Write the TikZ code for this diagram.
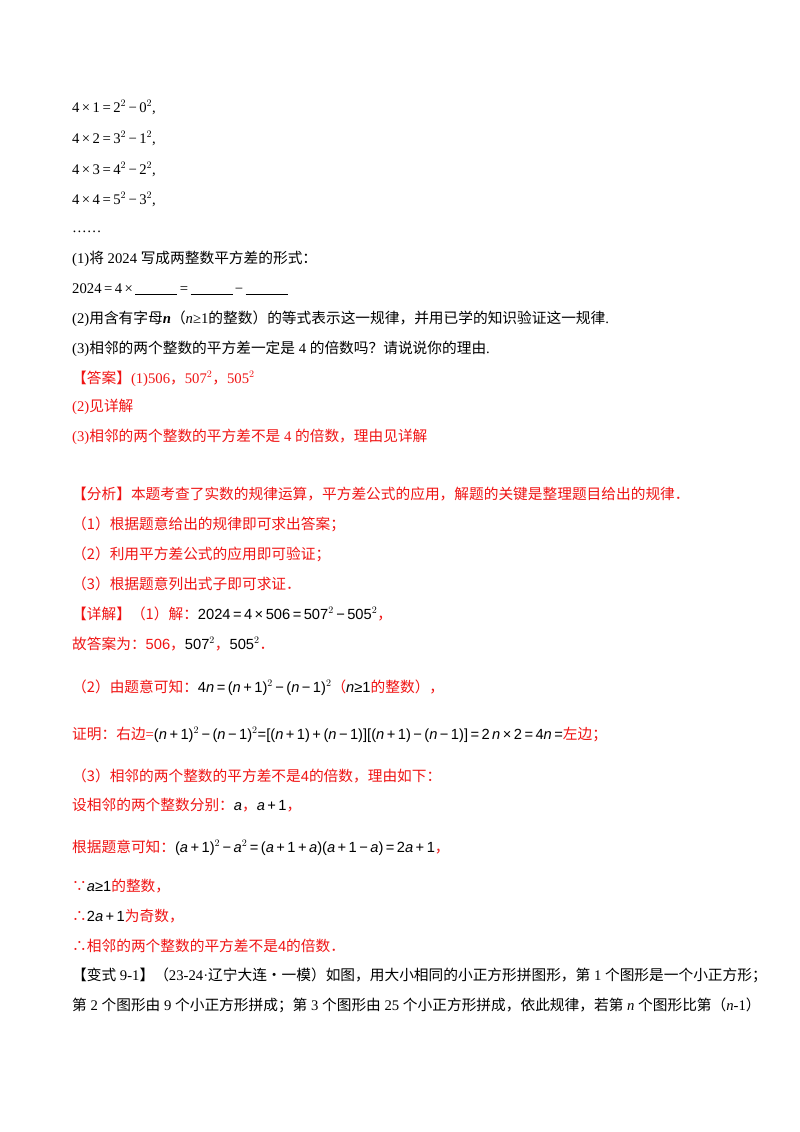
\documentclass[tikz,border=0pt]{standalone}
\usepackage{fontspec}
\setmainfont{Liberation Serif}
\newfontfamily\zh{Noto Sans CJK SC}
\newfontfamily\mf{Liberation Sans}
\definecolor{rd}{RGB}{240,20,20}
\newcommand{\ZH}[1]{{\zh #1}}
\newcommand{\SC}[1]{{\zh #1}}
\newcommand{\KK}[1]{{\color{black}\mf #1}}
\newcommand{\II}[1]{{\color{black}\mf\itshape #1}}
\begin{document}
\begin{tikzpicture}[x=1pt,y=-1pt,
  ln/.style={anchor=base west,inner sep=0,font=\fontsize{14.7}{17}\selectfont},
  rl/.style={ln,text=rd}]
\useasboundingbox[fill=white] (0,0) rectangle (800,1132);
\node[ln] (l1) at (72,112) {4\,×\,1\,=\,2$^{2}$\,−\,0$^{2}$,};
\node[ln] (l2) at (72,143) {4\,×\,2\,=\,3$^{2}$\,−\,1$^{2}$,};
\node[ln] (l3) at (72,174) {4\,×\,3\,=\,4$^{2}$\,−\,2$^{2}$,};
\node[ln] (l4) at (72,204) {4\,×\,4\,=\,5$^{2}$\,−\,3$^{2}$,};
\node[ln] (l5) at (72,232) {……};
\node[ln] (l6) at (72,263) {(1)\SC{将} 2024 \SC{写成两整数平方差的形式：}};
\node[ln] (l7) at (72,293) {2024\,=\,4\,×\,\underline{\hspace{42pt}}\,=\,\underline{\hspace{42pt}}\,−\,\underline{\hspace{42pt}}};
\node[ln] (l8) at (72,323) {(2)\SC{用含有字母}\textit{\textbf{n}}\SC{（}\textit{n}≥1\SC{的整数）的等式表示这一规律，并用已学的知识验证这一规律}.};
\node[ln] (l9) at (72,353) {(3)\SC{相邻的两个整数的平方差一定是} 4 \SC{的倍数吗？请说说你的理由}.};
\node[rl] (a1) at (72,383) {\ZH{【答案】}(1)506\ZH{，}507$^{2}$\ZH{，}505$^{2}$};
\node[rl] (a2) at (72,411) {(2)\SC{见详解}};
\node[rl] (a3) at (72,441) {(3)\SC{相邻的两个整数的平方差不是} 4 \SC{的倍数，理由见详解}};
\node[rl] (b1) at (72,499) {\ZH{【分析】本题考查了实数的规律运算，平方差公式的应用，解题的关键是整理题目给出的规律．}};
\node[rl] (b2) at (72,529) {\ZH{（1）根据题意给出的规律即可求出答案；}};
\node[rl] (b3) at (72,559) {\ZH{（2）利用平方差公式的应用即可验证；}};
\node[rl] (b4) at (72,589) {\ZH{（3）根据题意列出式子即可求证．}};
\node[rl] (b5) at (72,619) {\ZH{【详解】（1）解：}\KK{2024\,=\,4\,×\,506\,=\,507$^{2}$\,−\,505$^{2}$}\ZH{，}};
\node[rl] (b6) at (72,649) {\ZH{故答案为：}{\mf 506}\ZH{，}\KK{507$^{2}$}\ZH{，}\KK{505$^{2}$}\ZH{．}};
\node[rl] (b7) at (72,692) {\ZH{（2）由题意可知：}\KK{4\II{n}\,=\,(\II{n}\,+\,1)$^{2}$\,−\,(\II{n}\,−\,1)$^{2}$}\ZH{（}\II{n}\KK{≥1}\ZH{的整数），}};
\node[rl] (b8) at (72,739) {\ZH{证明：右边}=\KK{(\II{n}\,+\,1)$^{2}$\,−\,(\II{n}\,−\,1)$^{2}$=[(\II{n}\,+\,1)\,+\,(\II{n}\,−\,1)][(\II{n}\,+\,1)\,−\,(\II{n}\,−\,1)]\,=\,2\,\II{n}\,×\,2\,=\,4\II{n}\,=}\ZH{左边；}};
\node[rl] (b9) at (72,781) {\ZH{（3）相邻的两个整数的平方差不是}{\mf 4}\ZH{的倍数，理由如下：}};
\node[rl] (b10) at (72,810) {\ZH{设相邻的两个整数分别：}\II{a}\ZH{，}\KK{\II{a}\,+\,1}\ZH{，}};
\node[rl] (b11) at (72,852) {\ZH{根据题意可知：}\KK{(\II{a}\,+\,1)$^{2}$\,−\,\II{a}$^{2}$\,=\,(\II{a}\,+\,1\,+\,\II{a})(\II{a}\,+\,1\,−\,\II{a})\,=\,2\II{a}\,+\,1}\ZH{，}};
\node[rl] (b12) at (72,891) {\ZH{∵}\KK{\II{a}≥1}\ZH{的整数，}};
\node[rl] (b13) at (72,921) {\ZH{∴}\KK{2\II{a}\,+\,1}\ZH{为奇数，}};
\node[rl] (b14) at (72,951) {\ZH{∴相邻的两个整数的平方差不是}{\mf 4}\ZH{的倍数．}};
\node[ln] (c1) at (72,980) {\SC{【变式} 9-1\SC{】（}23-24·\SC{辽宁大连·一模）如图，用大小相同的小正方形拼图形，第} 1 \SC{个图形是一个小正方形；}};
\node[ln] (c2) at (72,1010) {\SC{第} 2 \SC{个图形由} 9 \SC{个小正方形拼成；第} 3 \SC{个图形由} 25 \SC{个小正方形拼成，依此规律，若第} \textit{n} \SC{个图形比第（}\textit{n}-1\SC{）}};
\end{tikzpicture}
\end{document}
